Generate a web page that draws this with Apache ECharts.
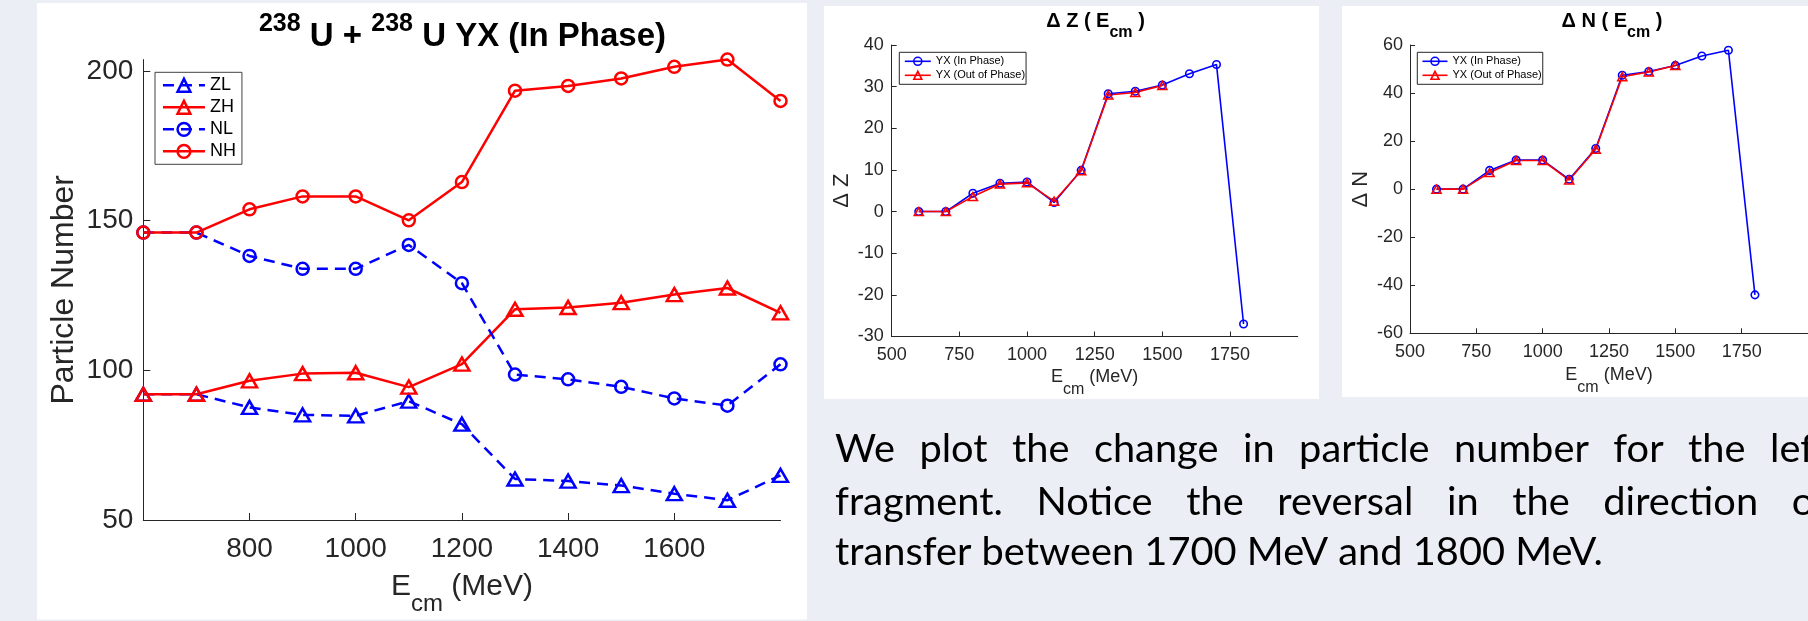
<!DOCTYPE html>
<html>
<head>
<meta charset="utf-8">
<title>238U + 238U particle transfer</title>
<script src="https://cdn.jsdelivr.net/npm/echarts@6/dist/echarts.min.js"></script>
<style>
  html, body { margin: 0; padding: 0; background: #EBEEF5; overflow: hidden; }
  #chart { width: 1808px; height: 621px; }
</style>
</head>
<body>
<div id="chart"></div>
<script>
// Collision energies (MeV)
const energy = [600, 700, 800, 900, 1000, 1100, 1200, 1300, 1400, 1500, 1600, 1700, 1800];
const energyOutOfPhase = [600, 700, 800, 900, 1000, 1100, 1200, 1300, 1400, 1500];

// Fragment proton / neutron numbers, YX in-phase
const zLight = [92, 92, 87.6, 85.1, 84.8, 89.7, 82.0, 63.7, 63.0, 61.5, 58.8, 56.6, 64.9];
const zHeavy = [92, 92, 96.5, 98.9, 99.2, 94.4, 102.1, 120.4, 121.0, 122.6, 125.3, 127.5, 119.2];
const nLight = [146, 146, 138.2, 133.9, 133.9, 141.9, 129.1, 98.6, 97.0, 94.5, 90.6, 88.2, 102.0];
const nHeavy = [146, 146, 153.8, 158.1, 158.1, 150.1, 162.9, 193.4, 195.0, 197.5, 201.4, 203.8, 190.0];

// Change in proton / neutron number
const deltaZInPhase = [0, 0, 4.4, 6.8, 7.1, 2.2, 9.9, 28.3, 28.9, 30.4, 33.1, 35.3, -27.0];
const deltaZOutOfPhase = [0, 0, 3.6, 6.6, 6.9, 2.5, 9.8, 28.0, 28.6, 30.3];
const deltaNInPhase = [0, 0, 7.8, 12.1, 12.1, 4.1, 16.9, 47.4, 49.0, 51.5, 55.4, 57.8, -44.0];
const deltaNOutOfPhase = [0, 0, 6.9, 11.9, 11.9, 3.8, 16.6, 46.8, 48.8, 51.5];

// Tick values
const particleTicks = [50, 100, 150, 200];
const particleEnergyTicks = [800, 1000, 1200, 1400, 1600];
const deltaEnergyTicks = [500, 750, 1000, 1250, 1500, 1750];
const deltaZTicks = [-30, -20, -10, 0, 10, 20, 30, 40];
const deltaNTicks = [-60, -40, -20, 0, 20, 40, 60];

// Slide text
const paragraphLines = [
  'We plot the change in particle number for the left',
  'fragment. Notice the reversal in the direction of',
  'transfer between 1700 MeV and 1800 MeV.'
];

const BLUE = '#0000FF';
const RED = '#FF0000';
const AXIS = '#262626';
const FONT = '"Liberation Sans", Arial, sans-serif';
const DASH = [11, 7];

function pairs(xs, ys) { return xs.map((x, i) => [x, ys[i]]); }

function lineSeries(name, xs, ys, grid, color, symbol, symbolSize, width, dashed) {
  return {
    type: 'line', name,
    xAxisIndex: grid, yAxisIndex: grid,
    data: pairs(xs, ys),
    symbol, symbolSize,
    clip: false, silent: true, animation: false,
    lineStyle: { color, width, type: dashed ? DASH : 'solid' },
    itemStyle: { color: 'rgba(0,0,0,0)', borderColor: color, borderWidth: width },
    emphasis: { disabled: true }
  };
}

function valueAxis(grid, min, max, ticks, fontSize, margin, tickLen) {
  return {
    gridIndex: grid, type: 'value', min, max,
    axisLine: { show: true, onZero: false, lineStyle: { color: AXIS, width: 1 } },
    axisTick: { show: true, inside: true, length: tickLen, customValues: ticks, lineStyle: { color: AXIS, width: 1 } },
    axisLabel: {
      customValues: ticks, fontSize, color: AXIS, fontFamily: FONT, margin,
      formatter: v => String(v)
    },
    splitLine: { show: false }
  };
}

function energyName(axis, mainSize, subSize, drop, gap) {
  return Object.assign(axis, {
    name: '{e|E}{s|cm}{e| (MeV)}',
    nameLocation: 'middle',
    nameGap: gap,
    nameTextStyle: {
      color: AXIS,
      rich: {
        e: { fontSize: mainSize, fontFamily: FONT, color: AXIS, padding: [0, 0, drop, 0] },
        s: { fontSize: subSize, fontFamily: FONT, color: AXIS, verticalAlign: 'bottom' }
      }
    }
  });
}

function yName(axis, text, size, gap) {
  return Object.assign(axis, {
    name: text, nameLocation: 'middle', nameGap: gap,
    nameTextStyle: { fontSize: size, fontFamily: FONT, color: AXIS }
  });
}

function legendItem(name, color, symbolWidth, lineWidth, dashed) {
  return {
    name,
    itemStyle: { color: 'rgba(0,0,0,0)', borderColor: color, borderWidth: symbolWidth },
    lineStyle: { color, width: lineWidth, type: dashed ? DASH : 'solid' }
  };
}

// Paragraph laid out word by word, justified like the slide text box
const paraSize = 38;
const paraFont = paraSize + 'px Lato';
const measure = document.createElement('canvas').getContext('2d');
measure.font = paraFont;
const squeeze = 768 / measure.measureText(paragraphLines[2]).width;
const paraLeft = 835;
const paraLastWordStart = [1770, 1791.7, null];
const paraBaselines = [464, 517.3, 567.3];
const paragraphGraphics = [];
paragraphLines.forEach((line, li) => {
  const words = line.split(' ');
  const widths = words.map(w => measure.measureText(w).width * squeeze);
  let gap = measure.measureText(' ').width * squeeze;
  if (paraLastWordStart[li] !== null) {
    const inner = widths.slice(0, -1).reduce((a, b) => a + b, 0);
    gap = (paraLastWordStart[li] - paraLeft - inner) / (words.length - 1);
  }
  let x = paraLeft;
  words.forEach((w, wi) => {
    paragraphGraphics.push({
      type: 'text', x, y: paraBaselines[li] - 0.387 * paraSize, scaleX: squeeze, silent: true,
      style: { text: w, font: paraFont, fill: '#000', verticalAlign: 'middle', textVerticalAlign: 'middle' }
    });
    x += widths[wi] + gap;
  });
});

function panel(x, y, w, h) {
  return { type: 'rect', z: -10, silent: true, shape: { x, y, width: w, height: h }, style: { fill: '#FFFFFF' } };
}

function titleText(x, y, text, rich) {
  return {
    type: 'text', x, y, silent: true,
    style: { text, rich, fill: '#000', align: 'center', textAlign: 'center', verticalAlign: 'top', textVerticalAlign: 'top' }
  };
}

const boldFont = s => 'bold ' + s + 'px "Liberation Sans", Arial, sans-serif';

const chart = echarts.init(document.getElementById('chart'), null, { renderer: 'canvas' });

chart.setOption({
  backgroundColor: '#EBEEF5',
  animation: false,
  textStyle: { fontFamily: FONT },
  grid: [
    { left: 143.3, top: 59.6, width: 637.2, height: 461.4 },
    { left: 891.7, top: 45, width: 406, height: 291.5 },
    { left: 1410, top: 45, width: 402.6, height: 288.3 }
  ],
  xAxis: [
    energyName(valueAxis(0, 600, 1800, particleEnergyTicks, 28, 15, 7), 30, 24, 14, 52),
    energyName(valueAxis(1, 500, 2000, deltaEnergyTicks, 18, 9.5, 5), 18, 16, 11.4, 32),
    energyName(valueAxis(2, 500, 2000, deltaEnergyTicks, 18, 9.5, 5), 18, 16, 11.4, 32.5)
  ],
  yAxis: [
    yName(valueAxis(0, 50, 203.8, particleTicks, 28, 10, 7), 'Particle Number', 32, 63),
    yName(valueAxis(1, -30, 40, deltaZTicks, 18, 8, 5), 'Δ Z', 22, 38.3),
    yName(valueAxis(2, -60, 60, deltaNTicks, 18, 7, 5), 'Δ N', 22, 38.3)
  ],
  legend: [
    {
      data: [
        legendItem('ZL', BLUE, 2.5, 2.5, true),
        legendItem('ZH', RED, 2.5, 2.5, false),
        legendItem('NL', BLUE, 2.5, 2.5, true),
        legendItem('NH', RED, 2.5, 2.5, false)
      ],
      orient: 'vertical', left: 155, top: 72.3,
      itemWidth: 42, itemHeight: 16, itemGap: 4,
      padding: [4, 6, 4, 6.7],
      borderColor: '#404040', borderWidth: 1, backgroundColor: '#FFFFFF',
      textStyle: { fontSize: 18, color: '#000', fontFamily: FONT },
      selectedMode: false
    },
    {
      data: [
        legendItem('YX (In Phase)', BLUE, 1.6, 1.6, false),
        legendItem('YX (Out of Phase)', RED, 1.6, 1.6, false)
      ],
      orient: 'vertical', left: 899.3, top: 52.3,
      itemWidth: 26, itemHeight: 10, itemGap: 3,
      padding: [3.5, 1, 3.5, 4.7],
      borderColor: '#262626', borderWidth: 1, backgroundColor: '#FFFFFF',
      textStyle: { fontSize: 11, color: '#000', fontFamily: FONT },
      selectedMode: false
    },
    {
      data: [
        legendItem('YX (In Phase)', BLUE, 1.6, 1.6, false),
        legendItem('YX (Out of Phase)', RED, 1.6, 1.6, false)
      ],
      orient: 'vertical', left: 1417.3, top: 52.3,
      itemWidth: 25, itemHeight: 10, itemGap: 3,
      padding: [3.5, 1, 3.5, 4.4],
      borderColor: '#262626', borderWidth: 1, backgroundColor: '#FFFFFF',
      textStyle: { fontSize: 11, color: '#000', fontFamily: FONT },
      selectedMode: false
    }
  ],
  series: [
    lineSeries('ZL', energy, zLight, 0, BLUE, 'triangle', [15, 13], 2.5, true),
    lineSeries('ZH', energy, zHeavy, 0, RED, 'triangle', [15, 13], 2.5, false),
    lineSeries('NL', energy, nLight, 0, BLUE, 'circle', 12, 2.5, true),
    lineSeries('NH', energy, nHeavy, 0, RED, 'circle', 12, 2.5, false),
    lineSeries('YX (In Phase)', energy, deltaZInPhase, 1, BLUE, 'circle', 7.5, 1.6, false),
    lineSeries('YX (Out of Phase)', energyOutOfPhase, deltaZOutOfPhase, 1, RED, 'triangle', [9, 8], 1.6, false),
    lineSeries('YX (In Phase)', energy, deltaNInPhase, 2, BLUE, 'circle', 7.5, 1.6, false),
    lineSeries('YX (Out of Phase)', energyOutOfPhase, deltaNOutOfPhase, 2, RED, 'triangle', [9, 8], 1.6, false)
  ],
  graphic: [
    panel(37, 3, 770, 616.5),
    panel(824, 6, 495, 393),
    panel(1342, 6, 470, 391),
    titleText(462.5, 11.5, '{sup|238}{m| U + }{sup|238}{m| U YX (In Phase)}', {
      sup: { font: boldFont(25), verticalAlign: 'top' },
      m: { font: boldFont(33), padding: [8.6, 0, 0, 0] }
    }),
    titleText(1095.5, 11.4, '{m|Δ Z ( E}{s|cm}{m| )}', {
      m: { font: boldFont(20), padding: [0, 0, 8.8, 0] },
      s: { font: boldFont(16), verticalAlign: 'bottom' }
    }),
    titleText(1612, 11.4, '{m|Δ N ( E}{s|cm}{m| )}', {
      m: { font: boldFont(20), padding: [0, 0, 8.8, 0] },
      s: { font: boldFont(16), verticalAlign: 'bottom' }
    })
  ].concat(paragraphGraphics)
});
</script>
</body>
</html>
